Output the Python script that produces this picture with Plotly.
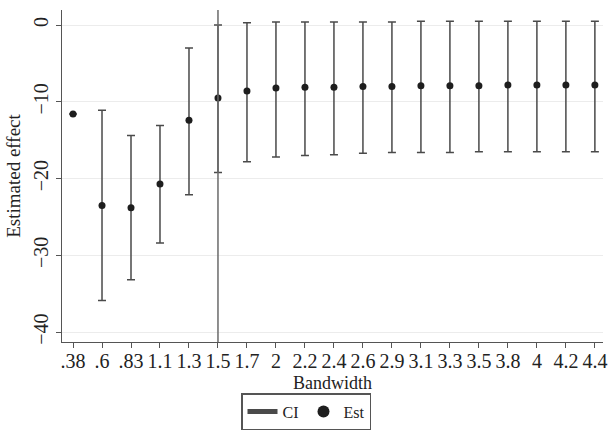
import plotly.graph_objects as go

bandwidth_labels = [".38", ".6", ".83", "1.1", "1.3", "1.5", "1.7", "2", "2.2", "2.4",
                    "2.6", "2.9", "3.1", "3.3", "3.5", "3.8", "4", "4.2", "4.4"]
estimates = [-11.6, -23.5, -23.8, -20.7, -12.4, -9.5, -8.6, -8.2, -8.1, -8.1,
             -8.0, -8.0, -7.9, -7.9, -7.9, -7.8, -7.8, -7.8, -7.8]
ci_upper = [None, -11.1, -14.4, -13.1, -3.0, 0.0, 0.3, 0.4, 0.4, 0.4,
            0.4, 0.4, 0.5, 0.5, 0.5, 0.5, 0.5, 0.5, 0.5]
ci_lower = [None, -35.9, -33.2, -28.4, -22.1, -19.2, -17.8, -17.2, -17.0, -16.9,
            -16.7, -16.6, -16.6, -16.6, -16.5, -16.5, -16.5, -16.5, -16.5]
y_ticks = [0, -10, -20, -30, -40]
cutoff_label = "1.5"

positions = list(range(1, len(bandwidth_labels) + 1))
cutoff_pos = positions[bandwidth_labels.index(cutoff_label)]

font_family = "Liberation Serif"
bar_color = "#4a4a4a"

err_plus = [0 if u is None else u - e for u, e in zip(ci_upper, estimates)]
err_minus = [0 if l is None else e - l for l, e in zip(ci_lower, estimates)]

fig = go.Figure()

# CI bars (error bars around invisible points)
fig.add_trace(go.Scatter(
    x=positions, y=estimates, mode="markers",
    marker=dict(size=1, opacity=0),
    error_y=dict(type="data", symmetric=False, array=err_plus, arrayminus=err_minus,
                 color=bar_color, thickness=1.5, width=4),
    showlegend=False, hoverinfo="skip"))

# legend entry for CI
fig.add_trace(go.Scatter(x=[None], y=[None], mode="lines", name="CI",
                         line=dict(color=bar_color, width=1.5)))

# point estimates
fig.add_trace(go.Scatter(x=positions, y=estimates, mode="markers", name="Est",
                         marker=dict(color="#1e1e1e", size=7, symbol="circle")))

fig.add_vline(x=cutoff_pos, line=dict(color="#6a6a6a", width=1.5))

fig.update_layout(
    width=612, height=434,
    margin=dict(l=62, r=9, t=10, b=92, autoexpand=False),
    paper_bgcolor="white", plot_bgcolor="white",
    font=dict(family=font_family, size=18, color="#222"),
    showlegend=True,
    legend=dict(orientation="h", x=0.5, xref="container", xanchor="center",
                y=1 - 393 / 434, yref="container", yanchor="top",
                bordercolor="#555", borderwidth=1.5, font=dict(size=16),
                tracegroupgap=0, itemsizing="constant"),
)

fig.update_xaxes(
    range=[0.62, len(positions) + 0.28],
    tickmode="array", tickvals=positions, ticktext=bandwidth_labels,
    tickangle=0,
    ticks="outside", ticklen=5, tickcolor="#555", tickwidth=1,
    ticklabelstandoff=-4,
    showline=True, linecolor="#555", linewidth=1.2,
    showgrid=False, zeroline=False,
    tickfont=dict(size=20),
    title=dict(text="Bandwidth", font=dict(size=18), standoff=6),
)
fig.update_yaxes(
    range=[-41.3, 1.96],
    tickmode="array", tickvals=y_ticks,
    ticks="outside", ticklen=5, tickcolor="#555", tickwidth=1,
    tickangle=-90,
    showline=True, linecolor="#555", linewidth=1.2,
    showgrid=True, gridcolor="#ececec", gridwidth=1, zeroline=False,
    tickfont=dict(size=20),
    title=dict(text="Estimated effect", font=dict(size=19), standoff=4),
)

fig.write_html("out.html", config={"displayModeBar": False},
               post_script="document.body.style.margin='0';document.body.style.overflow='hidden';")
